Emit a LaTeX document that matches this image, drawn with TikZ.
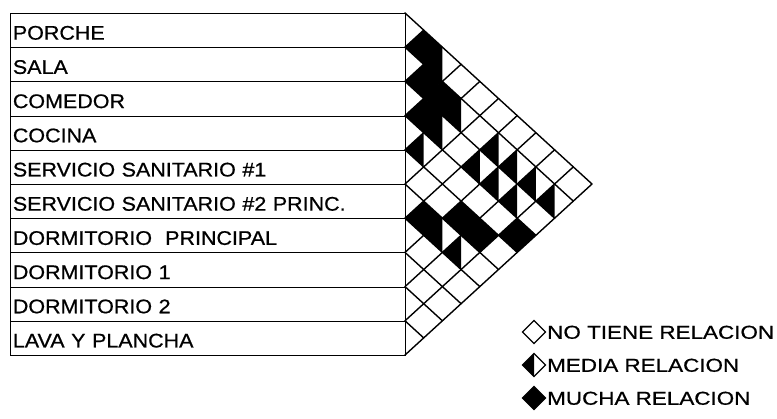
\documentclass[tikz,border=0pt]{standalone}
\usepackage{fontspec}
\usepackage{tikz}
\usetikzlibrary{positioning}
\newfontfamily\rowfont{Liberation Sans}[FakeStretch=1.09, FakeBold=0.7]
\newfontfamily\keyfont{Liberation Sans}[FakeStretch=1.2, FakeBold=0.7]

\begin{document}
\begin{tikzpicture}[x=1pt, y=-1pt,
  rowbox/.style={draw, line width=0.8pt, anchor=north west, minimum height=34.2pt,
    text width=390pt, inner xsep=2.5pt, inner ysep=0pt, align=left,
    text height=18.3pt, text depth=0pt, font=\rowfont\fontsize{19.7}{22}\selectfont},
  gridline/.style={line width=1.4pt, line cap=round},
  keyline/.style={draw, line width=1.1pt, line join=miter},
  keytext/.style={anchor=west, inner sep=0pt, text height=13.5pt, text depth=0pt,
    font=\keyfont\fontsize{18.7}{20}\selectfont},
]
  \useasboundingbox (0,0) rectangle (777,418);

  \foreach \lab [count=\n from 0] in {PORCHE, SALA, COMEDOR, COCINA,
      SERVICIO SANITARIO \#1, SERVICIO SANITARIO \#2 PRINC.,
      DORMITORIO\ \ PRINCIPAL, DORMITORIO 1, DORMITORIO 2, LAVA Y PLANCHA}
    \node[rowbox] (row\n) at (10,{13+34.2*\n}) {\lab};

  \begin{scope}[shift={(405pt,-13pt)}, x=18.7pt, y=-17.1pt]
    \foreach \i/\j in {0/1, 1/2, 1/3, 2/3, 5/6, 4/7, 4/8, 3/9}
      \fill ({\j-\i-1},{\i+\j+1}) -- ({\j-\i},{\i+\j}) -- ({\j-\i+1},{\i+\j+1})
        -- ({\j-\i},{\i+\j+2}) -- cycle;
    \foreach \i/\j in {0/2, 1/4, 2/4, 3/4, 1/6, 1/7, 1/8, 1/9, 2/6, 2/7, 2/8, 5/7, 5/8}
      \fill ({\j-\i-1},{\i+\j+1}) -- ({\j-\i},{\i+\j}) -- ({\j-\i},{\i+\j+2}) -- cycle;
    \foreach \k in {0,...,10} {
      \draw[gridline] (0,{2*\k}) -- ({10-\k},{10+\k});
      \draw[gridline] (0,{2*\k}) -- (\k,\k);
    }
  \end{scope}

  \coordinate (knone) at (534,332);
  \coordinate (kmedia) at (534,365);
  \coordinate (kmucha) at (534,398);
  \fill ([xshift=-11.5pt]kmedia) -- ([yshift=11.5pt]kmedia) -- ([yshift=-11.5pt]kmedia) -- cycle;
  \fill ([xshift=-11.5pt]kmucha) -- ([yshift=11.5pt]kmucha) -- ([xshift=11.5pt]kmucha)
    -- ([yshift=-11.5pt]kmucha) -- cycle;
  \foreach \k in {knone, kmedia, kmucha}
    \path[keyline] ([xshift=-11.5pt]\k) -- ([yshift=11.5pt]\k) -- ([xshift=11.5pt]\k)
      -- ([yshift=-11.5pt]\k) -- cycle;
  \node[keytext] (tnone) at ([xshift=13pt]knone) {NO TIENE RELACION};
  \node[keytext] (tmedia) at ([xshift=13pt]kmedia) {MEDIA RELACION};
  \node[keytext] (tmucha) at ([xshift=13pt]kmucha) {MUCHA RELACION};
\end{tikzpicture}
\end{document}
